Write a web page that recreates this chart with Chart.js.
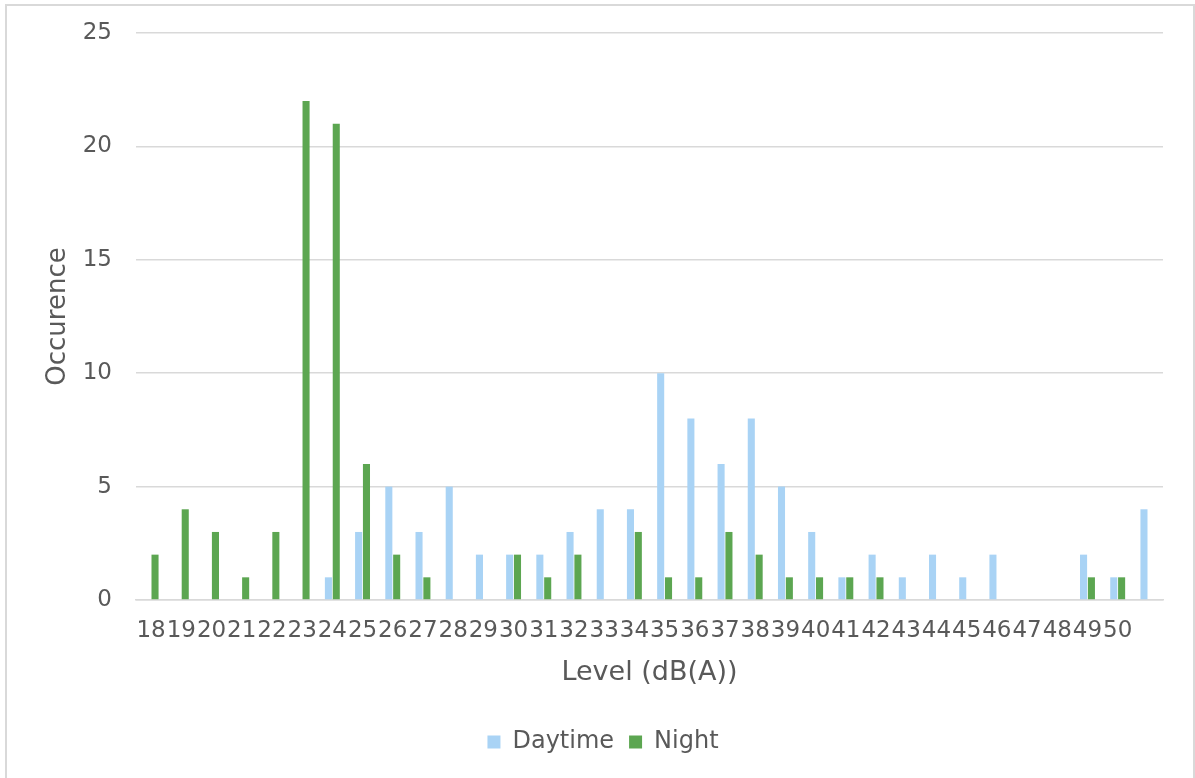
<!DOCTYPE html>
<html>
<head>
<meta charset="utf-8">
<title>Occurence by level</title>
<script src="https://cdn.jsdelivr.net/npm/chart.js@4.4.1/dist/chart.umd.min.js"></script>
<style>
  html, body { margin: 0; padding: 0; background: #ffffff; }
  #wrap { position: relative; width: 1195px; height: 778px; overflow: hidden; }
  #frame {
    position: absolute; left: 5px; top: 4px; width: 1190px; height: 800px;
    box-sizing: border-box; border: 2px solid #d9d9d9; pointer-events: none;
  }
  #levelChart { position: absolute; left: 0; top: 0; }
</style>
</head>
<body>
<div id="wrap">
  <canvas id="levelChart" width="1195" height="778"></canvas>
  <div id="frame"></div>
</div>
<script>
// Level bins in dB(A); the last bin carries no label on the axis
const levels = [
  "18", "19", "20", "21", "22", "23", "24", "25", "26", "27", "28",
  "29", "30", "31", "32", "33", "34", "35", "36", "37", "38", "39",
  "40", "41", "42", "43", "44", "45", "46", "47", "48", "49", "50", ""
];

const daytime = [
  0, 0, 0, 0, 0, 0, 1, 3, 5, 3, 5,
  2, 2, 2, 3, 4, 4, 10, 8, 6, 8, 5,
  3, 1, 2, 1, 2, 1, 2, 0, 0, 2, 1, 4
];

const night = [
  2, 4, 3, 1, 3, 22, 21, 6, 2, 1, 0,
  0, 2, 1, 2, 0, 3, 1, 1, 3, 2, 1,
  1, 1, 1, 0, 0, 0, 0, 0, 0, 1, 1, 0
];

const yTicks = [0, 5, 10, 15, 20, 25];

const colors = {
  daytime: "#a9d3f5",
  night: "#5ca651",
  text: "#595959",
  grid: "#d9d9d9",
};

const FONT = "'DejaVu Sans', Verdana, sans-serif";

Chart.defaults.font.family = FONT;
Chart.defaults.color = colors.text;

function barSet(label, data, color) {
  return {
    label: label,
    data: data,
    backgroundColor: color,
    borderWidth: 0,
    categoryPercentage: 0.52,
    barPercentage: 0.9,
  };
}

const ctx = document.getElementById("levelChart");

new Chart(ctx, {
  type: "bar",
  data: {
    labels: levels,
    datasets: [
      barSet("Daytime", daytime, colors.daytime),
      barSet("Night", night, colors.night),
    ],
  },
  options: {
    responsive: false,
    animation: false,
    layout: {
      // left padding also shifts the legend toward the plot centre
      padding: { left: 43, right: 32, top: 33, bottom: 14 },
    },
    plugins: {
      tooltip: { enabled: false },
      legend: {
        position: "bottom",
        labels: {
          boxWidth: 13,
          boxHeight: 13,
          padding: 15,
          color: colors.text,
          font: { size: 24 },
        },
      },
    },
    scales: {
      x: {
        grid: { display: false, drawTicks: false },
        border: { display: true, color: colors.grid, width: 1.5 },
        ticks: {
          autoSkip: false,
          maxRotation: 0,
          minRotation: 0,
          padding: 17,
          color: colors.text,
          font: { size: 23 },
        },
        title: {
          display: true,
          text: "Level (dB(A))",
          color: colors.text,
          font: { size: 27 },
          padding: { top: 4, bottom: 26 },
        },
        afterFit: (scale) => {
          scale.height = 115;
        },
      },
      y: {
        min: 0,
        max: 25,
        grid: { color: colors.grid, lineWidth: 1.5, drawTicks: false },
        border: { display: false },
        afterBuildTicks: (scale) => {
          scale.ticks = yTicks.map((v) => ({ value: v }));
        },
        ticks: {
          padding: 24,
          color: colors.text,
          font: { size: 23 },
        },
        title: {
          display: true,
          text: "Occurence",
          color: colors.text,
          font: { size: 26 },
          padding: { top: 0, bottom: 4 },
        },
        afterFit: (scale) => {
          // fixed axis width; top label overflow is covered by layout padding
          scale.width = 93;
          scale.paddingTop = 0;
          scale.paddingBottom = 0;
        },
      },
    },
  },
});
</script>
</body>
</html>
